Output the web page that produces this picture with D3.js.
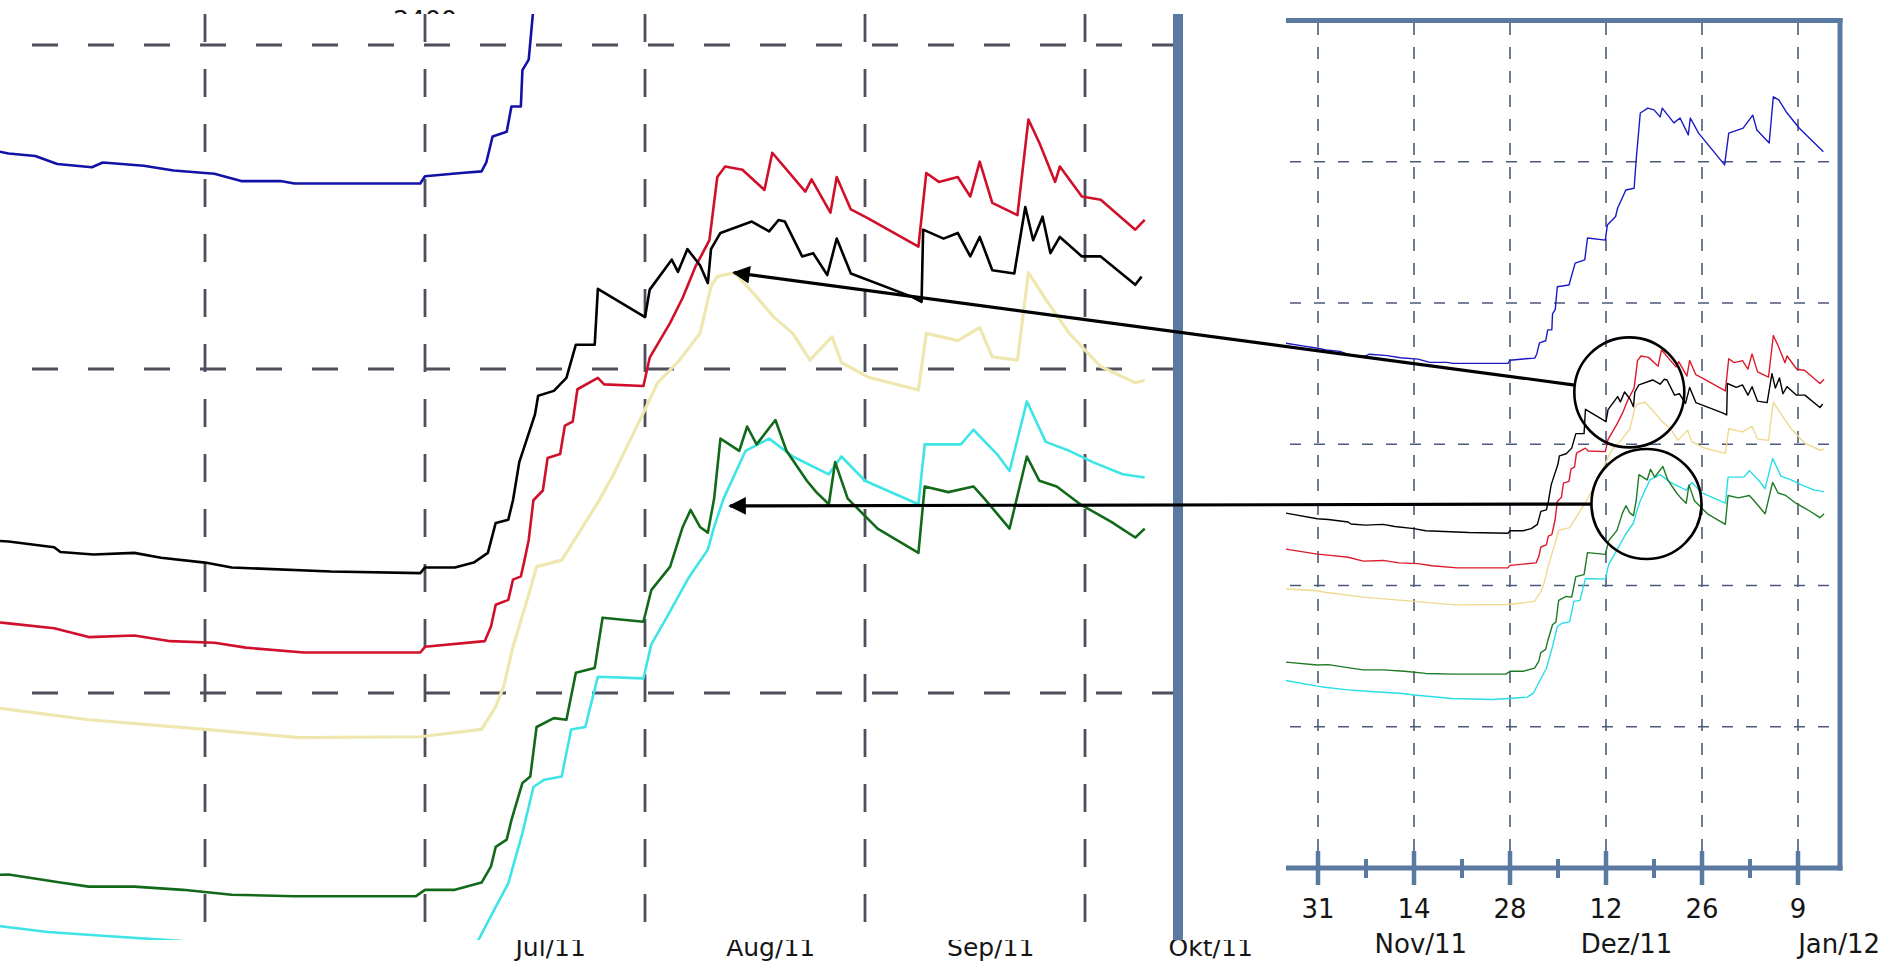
<!DOCTYPE html>
<html>
<head>
<meta charset="utf-8">
<script src="https://cdn.jsdelivr.net/npm/d3@7"></script>
<style>
  body { margin: 0; background: #fff; }
  .tickText { font-family: "DejaVu Sans", sans-serif; font-size: 26px; fill: #151515; }
  .leftText { font-family: "DejaVu Sans", sans-serif; font-size: 25px; fill: #151515; }
</style>
</head>
<body>
<div id="chart"></div>
<script>
// Values: [day since 31 Oct 2011, value]
var blueData = [[-4.7,1486],[-2,1478],[0,1472],[1.5,1466],[3.2,1463],[4.6,1453],[6.8,1449],[7.5,1455],[10.1,1451],[12,1445],[14.6,1441],[16.3,1432],[18.8,1432],[19.7,1429],[27.7,1429],[28,1438],[30.3,1442],[31.6,1444],[31.9,1455],[32.3,1487],[33.2,1493],[33.5,1524],[34.1,1524],[34.2,1569],[34.6,1582],[34.9,1646],[36.6,1651],[37.5,1713],[38.9,1722],[39.3,1784],[41.9,1778],[42.2,1821],[43.4,1845],[43.7,1869],[44.9,1920],[46.1,1925],[46.4,2005],[47,2138],[48.1,2152],[49,2147],[49.9,2127],[50.2,2152],[51.9,2110],[52.8,2124],[54,2076],[54.3,2124],[55.5,2081],[59.3,1991],[59.9,2081],[62,2095],[63.4,2132],[64,2090],[65.8,2053],[66.4,2184],[67.2,2175],[68.4,2138],[70.2,2095],[73.7,2028]];
var blackData = [[-4.7,1005],[-0.1,989],[1.5,987],[4.4,980],[4.8,974],[6.9,971],[9.5,973],[11.2,967],[14,961],[15.7,955],[22,950],[27.7,948],[28,955],[29.9,955],[31.1,961],[32,973],[32.5,1010],[33.3,1014],[33.6,1038],[34,1085],[35,1144],[35.2,1167],[36.2,1173],[37,1189],[37.6,1230],[38.8,1230],[39,1299],[42,1264],[42.3,1298],[43.7,1335],[44.1,1320],[44.7,1348],[45.5,1328],[46,1306],[46.2,1348],[46.8,1368],[48.8,1382],[49.9,1370],[50.5,1384],[50.9,1382],[52,1339],[52.7,1343],[53.6,1316],[54.2,1361],[55.1,1318],[59,1289],[59.6,1283],[59.7,1372],[61,1361],[61.9,1368],[62.7,1339],[63.3,1363],[64.1,1322],[65.5,1318],[66.2,1400],[66.7,1359],[67.3,1388],[67.8,1343],[68.4,1363],[69.8,1339],[71,1339],[73.2,1304],[73.6,1314]];
var redData = [[-4.7,903],[-0.1,889],[1.5,886],[4.4,880],[6.6,869],[9.5,871],[11.8,864],[14.6,862],[16.6,856],[20.3,850],[27.7,850],[28,857],[31.8,864],[32.2,882],[32.5,909],[33.3,915],[33.6,940],[34.1,944],[34.3,961],[34.6,989],[34.9,1038],[35.5,1050],[35.8,1090],[36.6,1095],[36.9,1130],[37.4,1135],[37.7,1175],[39,1189],[39.4,1181],[41.9,1179],[42.3,1214],[43.6,1257],[44.4,1288],[45.2,1326],[46.1,1359],[46.6,1437],[47.1,1450],[48.2,1446],[49.6,1421],[50.1,1467],[52.2,1419],[52.6,1434],[53.8,1393],[54.2,1437],[55.1,1397],[56.2,1386],[59.4,1351],[59.9,1442],[60.7,1431],[61.9,1437],[62.7,1413],[63.3,1456],[64.1,1405],[65.7,1390],[66.4,1508],[67.1,1479],[68.1,1431],[68.4,1450],[69.8,1413],[71,1409],[73.2,1372],[73.8,1384]];
var yellowData = [[-4.7,790],[-0.1,785],[1,781],[6.6,767],[14,755],[20,745],[27.7,746],[31.6,755],[32.5,783],[33,808],[33.6,857],[34.5,915],[35.1,956],[36.7,964],[37.9,1001],[39,1035],[40,1070],[41,1110],[42,1150],[42.8,1183],[44.2,1211],[45.5,1244],[46.2,1302],[46.6,1314],[47.7,1319],[49.1,1289],[50.2,1264],[51.4,1244],[52.5,1211],[53.9,1240],[54.5,1208],[56.2,1190],[59.4,1174],[59.9,1244],[61.9,1235],[63.3,1251],[64.1,1215],[65.7,1211],[66.4,1319],[67.5,1286],[69,1244],[71,1203],[73.2,1183],[73.8,1186]];
var greenData = [[-4.7,583],[-0.1,575],[1.5,576],[4.8,566],[6.6,561],[9.5,561],[12.6,557],[15.7,551],[19.7,549],[27.4,549],[28,557],[29.9,557],[31.6,566],[32.2,586],[32.5,610],[33.2,619],[33.5,643],[34.2,689],[34.7,697],[35.1,758],[36.2,769],[37,767],[37.6,825],[38.8,831],[39.3,893],[41.9,888],[42.4,927],[43.6,956],[44.4,1005],[44.9,1026],[45.5,1005],[46,998],[46.4,1040],[46.8,1114],[48,1099],[48.5,1129],[49.1,1107],[50.3,1137],[51,1099],[52.3,1062],[52.9,1048],[53.7,1033],[54.1,1085],[54.9,1040],[56.8,1003],[59.4,973],[59.8,1055],[61.3,1048],[62.9,1055],[63.6,1040],[65.2,1003],[66.3,1092],[67.1,1062],[68.2,1055],[69.7,1033],[71.7,1011],[73.2,992],[73.8,1003]];
var cyanData = [[-4.7,531],[-0.1,515],[1,512],[4,505],[7.7,500],[12.4,494],[14,490],[19.5,480],[25.4,477],[27.8,480],[30.5,484],[31.4,495],[32.5,536],[33.3,565],[34.2,627],[34.9,684],[35.6,693],[36.7,697],[37.3,755],[38.2,758],[39,820],[41.9,818],[42.4,860],[43.4,894],[44.8,943],[46,977],[46.4,1005],[47,1040],[48.4,1099],[49.9,1114],[51.4,1092],[53.7,1070],[54.5,1092],[56,1062],[59.4,1033],[59.8,1107],[62.1,1107],[62.9,1125],[64.4,1095],[65.2,1074],[66.3,1160],[67.5,1110],[69,1099],[70.5,1085],[72.4,1070],[73.8,1066]];

var seriesData = [yellowData, cyanData, greenData, redData, blackData, blueData];
var leftColors = ["#efe7b0", "#3ee4e6", "#13691a", "#d0102a", "#000000", "#1212a6"];
var rightColors = ["#eed98e", "#27dde6", "#1f7a25", "#dd1a2a", "#000000", "#1a1ac4"];

// Tick labels and grid positions
var rightTickDays = [0, 14, 28, 42, 56, 70];
var rightMinorDays = [7, 21, 35, 49, 63];
var rightMonthLabels = ["Nov/11", "Dez/11", "Jan/12"];
var rightMonthDays = [15, 45, 76];
var rightGridValues = [400, 800, 1200, 1600, 2000];
var leftGridDays = [14, 28, 42, 56, 70];
var leftGridValues = [800, 1200, 1600];
var leftMonthLabels = ["Jul/11", "Aug/11", "Sep/11", "Okt/11"];
var leftMonthDays = [36, 50, 64, 78];
var topLabel = "2400";

// Annotations: circle on the right chart, arrow tip on the left chart
var circleDays = [45.4, 47.9];
var circleValues = [1347, 1031];
var arrowDays = [47.66, 47.41];
var arrowValues = [1319, 1031];

var svgWidth = 1884;
var svgHeight = 963;

function toDate(d) {
    return new Date(Date.UTC(2011, 9, 31) + d * 864e5);
}

var svg = d3.select("#chart")
    .append("svg")
    .attr("width", svgWidth)
    .attr("height", svgHeight);

var frameColor = "#5a7aa2";

// Scales for both panels
var xR = d3.scaleUtc().domain([toDate(0), toDate(70)]).range([1318, 1798]);
var yR = d3.scaleLinear().domain([0, 2400]).range([868, 20.5]);
var xL = d3.scaleUtc().domain([toDate(14), toDate(70)]).range([205, 1085]);
var yL = d3.scaleLinear().domain([800, 1600]).range([693, 45]);

var defs = svg.append("defs");
defs.append("clipPath").attr("id", "clipL")
    .append("rect").attr("x", 0).attr("y", 14).attr("width", 1173).attr("height", 926);
defs.append("clipPath").attr("id", "clipR")
    .append("rect").attr("x", 1286).attr("y", 20).attr("width", 554).attr("height", 848);
defs.append("clipPath").attr("id", "clipTop")
    .append("rect").attr("x", 0).attr("y", 0).attr("width", 1173).attr("height", 14);
defs.append("clipPath").attr("id", "clipBottom")
    .append("rect").attr("x", 0).attr("y", 940).attr("width", 1286).attr("height", 30);
defs.append("marker")
    .attr("id", "arrowHead")
    .attr("viewBox", "0 0 10 10")
    .attr("refX", 9).attr("refY", 5)
    .attr("markerWidth", 7).attr("markerHeight", 5.5)
    .attr("markerUnits", "strokeWidth")
    .attr("orient", "auto-start-reverse")
    .append("path")
    .attr("d", "M0,0 L10,5 L0,10 z")
    .attr("fill", "#000");

// ---------- left (magnified) panel ----------
var leftGroup = svg.append("g");

// leftover labels, half hidden by the plot
leftGroup.append("text")
    .attr("class", "leftText")
    .attr("clip-path", "url(#clipTop)")
    .attr("x", xL(toDate(28)))
    .attr("y", 28)
    .attr("text-anchor", "middle")
    .attr("font-family", "Liberation Sans, sans-serif")
    .attr("font-size", "28px")
    .text(topLabel);

leftGroup.append("g")
    .attr("clip-path", "url(#clipBottom)")
    .selectAll("text")
    .data(leftMonthLabels)
    .enter()
    .append("text")
    .attr("class", "leftText")
    .attr("x", (d, i) => xL(toDate(leftMonthDays[i])))
    .attr("y", 956)
    .attr("text-anchor", "middle")
    .text(d => d);

var leftPlot = leftGroup.append("g").attr("clip-path", "url(#clipL)");

leftPlot.selectAll(".hgridL")
    .data(leftGridValues)
    .enter()
    .append("line")
    .attr("x1", 32).attr("x2", 1173)
    .attr("y1", d => yL(d)).attr("y2", d => yL(d))
    .attr("stroke", "#4d4f5a")
    .attr("stroke-width", 2.8)
    .attr("stroke-dasharray", "26,30");

leftPlot.selectAll(".vgridL")
    .data(leftGridDays)
    .enter()
    .append("line")
    .attr("x1", d => xL(toDate(d))).attr("x2", d => xL(toDate(d)))
    .attr("y1", 14).attr("y2", 940)
    .attr("stroke", "#4d4f5a")
    .attr("stroke-width", 2.8)
    .attr("stroke-dasharray", "28,27");

var lineL = d3.line()
    .x(d => xL(toDate(d[0])))
    .y(d => yL(d[1]));

leftPlot.selectAll(".seriesL")
    .data(seriesData)
    .enter()
    .append("path")
    .attr("d", lineL)
    .attr("fill", "none")
    .attr("stroke", (d, i) => leftColors[i])
    .attr("stroke-width", (d, i) => i == 0 ? 3.2 : 2.6)
    .attr("stroke-linejoin", "round");

// separator bar
svg.append("rect")
    .attr("x", 1173).attr("y", 14)
    .attr("width", 10).attr("height", 926)
    .attr("fill", frameColor);

// ---------- right (full) panel ----------
var rightGroup = svg.append("g");

rightGroup.selectAll(".hgridR")
    .data(rightGridValues)
    .enter()
    .append("line")
    .attr("x1", 1290).attr("x2", 1838)
    .attr("y1", d => yR(d)).attr("y2", d => yR(d))
    .attr("stroke", "#4a5a78")
    .attr("stroke-width", 1.6)
    .attr("stroke-dasharray", "11,13");

rightGroup.selectAll(".vgridR")
    .data(rightTickDays)
    .enter()
    .append("line")
    .attr("x1", d => xR(toDate(d))).attr("x2", d => xR(toDate(d)))
    .attr("y1", 23).attr("y2", 866)
    .attr("stroke", "#4a5a78")
    .attr("stroke-width", 1.6)
    .attr("stroke-dasharray", "12,12");

var lineR = d3.line()
    .x(d => xR(toDate(d[0])))
    .y(d => yR(d[1]));

rightGroup.append("g")
    .attr("clip-path", "url(#clipR)")
    .selectAll("path")
    .data(seriesData)
    .enter()
    .append("path")
    .attr("d", lineR)
    .attr("fill", "none")
    .attr("stroke", (d, i) => rightColors[i])
    .attr("stroke-width", 1.4)
    .attr("stroke-linejoin", "round");

// frame: top, right and bottom axis line
rightGroup.append("line")
    .attr("x1", 1286).attr("x2", 1842.5)
    .attr("y1", yR(2400)).attr("y2", yR(2400))
    .attr("stroke", frameColor).attr("stroke-width", 5);
rightGroup.append("line")
    .attr("x1", 1840).attr("x2", 1840)
    .attr("y1", 18).attr("y2", 870.5)
    .attr("stroke", frameColor).attr("stroke-width", 5);
rightGroup.append("line")
    .attr("x1", 1286).attr("x2", 1842.5)
    .attr("y1", yR(0)).attr("y2", yR(0))
    .attr("stroke", frameColor).attr("stroke-width", 5);

rightGroup.selectAll(".majorTick")
    .data(rightTickDays)
    .enter()
    .append("line")
    .attr("x1", d => xR(toDate(d))).attr("x2", d => xR(toDate(d)))
    .attr("y1", yR(0) - 17).attr("y2", yR(0) + 17)
    .attr("stroke", frameColor).attr("stroke-width", 4.5);

rightGroup.selectAll(".minorTick")
    .data(rightMinorDays)
    .enter()
    .append("line")
    .attr("x1", d => xR(toDate(d))).attr("x2", d => xR(toDate(d)))
    .attr("y1", yR(0) - 9).attr("y2", yR(0) + 10)
    .attr("stroke", frameColor).attr("stroke-width", 4);

var dayFormat = d3.utcFormat("%-d");

rightGroup.selectAll(".dayLabel")
    .data(rightTickDays)
    .enter()
    .append("text")
    .attr("class", "tickText")
    .attr("x", d => xR(toDate(d)))
    .attr("y", 918)
    .attr("text-anchor", "middle")
    .text(d => dayFormat(toDate(d)));

rightGroup.selectAll(".monthLabel")
    .data(rightMonthLabels)
    .enter()
    .append("text")
    .attr("class", "tickText")
    .attr("x", (d, i) => xR(toDate(rightMonthDays[i])))
    .attr("y", 953)
    .attr("text-anchor", "middle")
    .text(d => d);

// ---------- annotations ----------
var circleR = 55;
var annot = svg.append("g");

circleDays.forEach(function(cd, i) {
    var cx = xR(toDate(cd));
    var cy = yR(circleValues[i]);
    var tx = xL(toDate(arrowDays[i]));
    var ty = yL(arrowValues[i]);
    var len = Math.hypot(tx - cx, ty - cy);
    var sx = cx + (tx - cx) / len * circleR;
    var sy = cy + (ty - cy) / len * circleR;

    annot.append("circle")
        .attr("cx", cx).attr("cy", cy).attr("r", circleR)
        .attr("fill", "none")
        .attr("stroke", "#000")
        .attr("stroke-width", 2.6);

    annot.append("line")
        .attr("x1", sx).attr("y1", sy)
        .attr("x2", tx).attr("y2", ty)
        .attr("stroke", "#000")
        .attr("stroke-width", 3.2)
        .attr("marker-end", "url(#arrowHead)");
});
</script>
</body>
</html>
